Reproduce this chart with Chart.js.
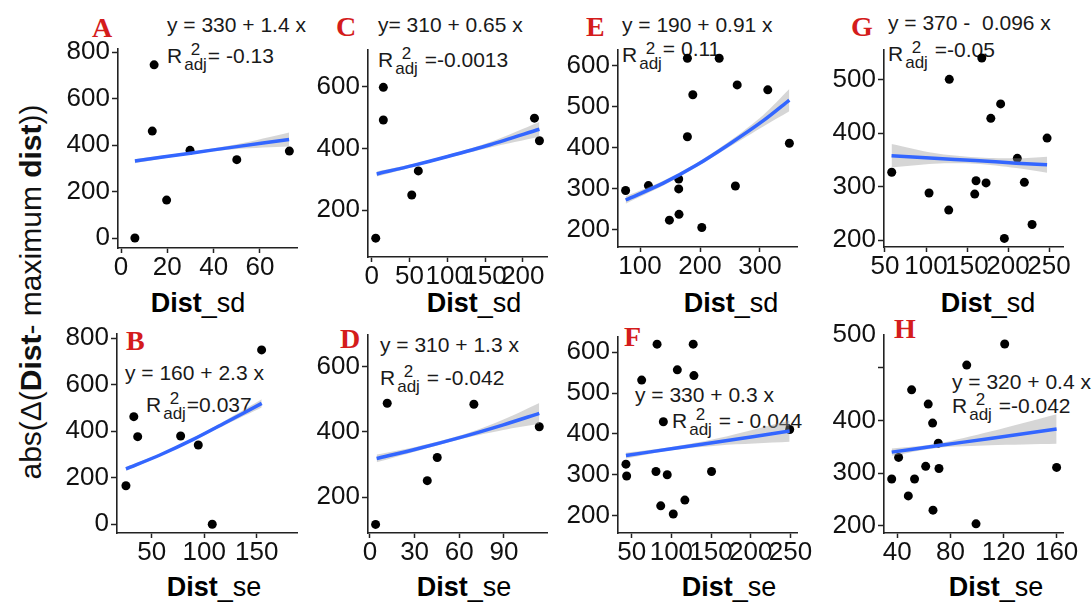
<!DOCTYPE html>
<html>
<head>
<meta charset="utf-8">
<script src="https://cdn.jsdelivr.net/npm/chart.js"></script>
<style>
body{margin:0;background:#fff;}
#wrap{position:relative;width:1092px;height:604px;overflow:hidden;font-family:"Liberation Sans",Arial,sans-serif;color:#1a1a1a;}
canvas{position:absolute;}
.lab{position:absolute;font-family:"Liberation Serif","Times New Roman",serif;font-weight:bold;font-size:28px;line-height:28px;color:#d41c1c;}
.eq{position:absolute;font-size:21px;line-height:21px;white-space:pre;}
.st{display:inline-flex;flex-direction:column;align-items:center;font-size:17px;line-height:15px;vertical-align:8px;margin:0 1px 0 2px;}
.ttl{position:absolute;font-size:27px;line-height:27px;white-space:pre;transform:translate(-50%,-50%);color:#000;}
.ytl{position:absolute;left:31px;top:292px;font-size:30px;line-height:30px;white-space:pre;transform:translate(-50%,-50%) rotate(-90deg);color:#111;}
</style>
</head>
<body>
<div id="wrap">
  <div class="ytl">abs(Δ(<b>Dist</b>- maximum <b>dist</b>))</div>

  <!-- panel letters -->
  <div class="lab" style="left:92px;top:14px">A</div>
  <div class="lab" style="left:336px;top:13px">C</div>
  <div class="lab" style="left:586px;top:13px">E</div>
  <div class="lab" style="left:851px;top:13px">G</div>
  <div class="lab" style="left:126px;top:327px">B</div>
  <div class="lab" style="left:340px;top:325px">D</div>
  <div class="lab" style="left:624px;top:323px">F</div>
  <div class="lab" style="left:894px;top:315px">H</div>

  <!-- fit equations -->
  <div class="eq" style="left:167px;top:14px">y = 330 + 1.4 x</div>
  <div class="eq" style="left:167px;top:42px">R<span class="st"><span>2</span><span>adj</span></span>= -0.13</div>
  <div class="eq" style="left:378px;top:14px">y= 310 + 0.65 x</div>
  <div class="eq" style="left:378px;top:46px">R<span class="st"><span>2</span><span>adj</span></span> =-0.0013</div>
  <div class="eq" style="left:622px;top:14px">y = 190 + 0.91 x</div>
  <div class="eq" style="left:622px;top:41px">R<span class="st"><span>2</span><span>adj</span></span><span style="position:relative;top:-6px">= 0.11</span></div>
  <div class="eq" style="left:888px;top:12px">y = 370 -  0.096 x</div>
  <div class="eq" style="left:888px;top:40px">R<span class="st"><span>2</span><span>adj</span></span><span style="position:relative;top:-4px"> =-0.05</span></div>
  <div class="eq" style="left:125px;top:362px">y = 160 + 2.3 x</div>
  <div class="eq" style="left:146px;top:391px">R<span class="st"><span>2</span><span>adj</span></span>=0.037</div>
  <div class="eq" style="left:380px;top:334px">y = 310 + 1.3 x</div>
  <div class="eq" style="left:380px;top:364px">R<span class="st"><span>2</span><span>adj</span></span> = -0.042</div>
  <div class="eq" style="left:635px;top:384px">y = 330 + 0.3 x</div>
  <div class="eq" style="left:672px;top:407px">R<span class="st"><span>2</span><span>adj</span></span> = - 0.044</div>
  <div class="eq" style="left:952px;top:371px">y = 320 + 0.4 x</div>
  <div class="eq" style="left:952px;top:392px">R<span class="st"><span>2</span><span>adj</span></span> =-0.042</div>

  <!-- axis titles -->
  <div class="ttl" style="left:198px;top:303px"><b>Dist</b>_sd</div>
  <div class="ttl" style="left:474px;top:303px"><b>Dist</b>_sd</div>
  <div class="ttl" style="left:731px;top:303px"><b>Dist</b>_sd</div>
  <div class="ttl" style="left:988px;top:303px"><b>Dist</b>_sd</div>
  <div class="ttl" style="left:214px;top:587px"><b>Dist</b>_se</div>
  <div class="ttl" style="left:464px;top:587px"><b>Dist</b>_se</div>
  <div class="ttl" style="left:729px;top:587px"><b>Dist</b>_se</div>
  <div class="ttl" style="left:996px;top:587px"><b>Dist</b>_se</div>
</div>
<script>
// A  (Dist_sd)
var aX = [6, 14.3, 13.5, 19.7, 29.8, 50, 72.7];
var aY = [0, 745, 460, 163, 377, 337, 374];
var aFitX = [6, 30, 50, 72.6];
var aFitY = [331, 365, 393, 424];
var aHi = [340, 370, 403, 454];
var aLo = [322, 360, 383, 394];
var aXTicks = [0, 20, 40, 60];
var aYTicks = [0, 200, 400, 600, 800];

// B  (Dist_se)
var bX = [25.5, 33, 36.7, 77.6, 94.4, 107.7, 154.7];
var bY = [166, 463, 377, 380, 341, 0, 750];
var bFitX = [25.5, 57.9, 89.6, 121.4, 154.8];
var bFitY = [238, 298, 365, 440, 520];
var bHi = [246, 303, 371, 450, 538];
var bLo = [230, 293, 359, 430, 502];
var bXTicks = [50, 100, 150];
var bYTicks = [0, 200, 400, 600, 800];

// C
var cX = [5.3, 15.4, 15.4, 61.7, 53, 215.4, 222];
var cY = [109, 598, 492, 327, 249, 498, 425];
var cFitX = [6.6, 55.1, 99.3, 156.7, 222];
var cFitY = [317, 345, 373, 412, 462];
var cHi = [325, 350, 378, 421, 486];
var cLo = [309, 340, 368, 403, 438];
var cXTicks = [0, 50, 100, 150, 200];
var cYTicks = [200, 400, 600];

// D
var dX = [3.8, 11.6, 38.5, 45.2, 69.8, 113.7];
var dY = [117, 488, 251, 322, 485, 416];
var dFitX = [4.5, 31.3, 62.7, 89.6, 113.7];
var dFitY = [319, 348, 386, 422, 457];
var dHi = [331, 355, 392, 438, 489];
var dLo = [307, 341, 380, 406, 425];
var dXTicks = [0, 30, 60, 90];
var dYTicks = [200, 400, 600];

// E
var eX = [76, 114, 149, 164.5, 164.5, 165, 179, 179, 188, 203, 232, 259, 262, 313, 349];
var eY = [296, 308, 224, 324, 300, 238, 618, 427, 529, 206, 618, 307, 553, 541, 411];
var eFitX = [76.1, 138.9, 194.4, 250, 305.5, 348.9];
var eFitY = [273, 314, 358, 410, 466, 516];
var eHi = [282, 320, 363, 417, 480, 543];
var eLo = [264, 308, 353, 403, 452, 489];
var eXTicks = [100, 200, 300];
var eYTicks = [200, 300, 400, 500, 600];

// F
var fX = [42.8, 43.7, 62.6, 82, 80.6, 86.6, 89.9, 94.8, 102.4, 107.5, 117, 127.5, 128.4, 150.6, 249];
var fY = [326, 297, 532, 620, 308, 224, 430, 300, 204, 557, 238, 620, 543, 308, 411];
var fFitX = [42.8, 100, 160, 248.9];
var fFitY = [347, 364, 381, 407];
var fHi = [354, 368, 390, 433];
var fLo = [340, 360, 372, 381];
var fXTicks = [50, 100, 150, 200, 250];
var fYTicks = [200, 300, 400, 500, 600];

// G
var gX = [58.2, 103.7, 127.7, 128.4, 159.4, 161, 173.2, 168, 179, 191, 195.5, 211.3, 219.9, 229.3, 247.6];
var gY = [327, 288, 256, 501, 286, 311, 307, 541, 428, 455, 203, 353, 308, 229, 391];
var gFitX = [58, 110, 160, 210, 247.6];
var gFitY = [358, 353, 349, 344, 341];
var gHi = [380, 363, 355, 353, 356];
var gLo = [336, 343, 343, 335, 326];
var gXTicks = [50, 100, 150, 200, 250];
var gYTicks = [200, 300, 400, 500];

// H
var hX = [35.8, 41, 48.3, 50.8, 53, 61.4, 63.3, 66.6, 66.9, 70.9, 71.4, 92.3, 99.3, 120.9, 160];
var hY = [289, 330, 257, 458, 289, 313, 431, 395, 230, 357, 309, 505, 204, 545, 311];
var hFitX = [35.8, 70, 110, 160];
var hFitY = [340, 352, 366, 384];
var hHi = [347, 356, 379, 412];
var hLo = [333, 348, 353, 356];
var hXTicks = [40, 80, 120, 160];
var hYTicks = [200, 300, 400, 500, 562];
var hYLabels = ['200', '300', '400', '', '500'];

var tickFont = {family: '"Liberation Sans", Arial, sans-serif', size: 26, lineHeight: 1};

function pts(a, b) {
    return a.map(function(v, i){ return {x: v, y: b[i]}; });
}

// box = [left, top, right, bottom] of the plot area on the page
function panel(p) {
    var cv = document.createElement('canvas');
    cv.width = p.box[2] - p.box[0] + 90;
    cv.height = p.box[3] - p.box[1] + 55;
    cv.style.left = (p.box[0] - 60) + 'px';
    cv.style.top = (p.box[1] - 15) + 'px';
    document.getElementById('wrap').appendChild(cv);

    new Chart(cv, {
        type: 'line',
        data: {
            datasets: [
            {
                data: pts(p.fitX, p.fitY),
                borderColor: '#3366ff',
                borderWidth: 3.5,
                pointRadius: 0,
                tension: 0.3,
                fill: false,
                order: 0
            },
            {
                data: pts(p.fitX, p.hi),
                borderColor: 'rgba(0,0,0,0)',
                pointRadius: 0,
                backgroundColor: 'rgba(153,153,153,0.4)',
                tension: 0.3,
                fill: '+1',
                order: 1
            },
            {
                data: pts(p.fitX, p.lo),
                borderColor: 'rgba(0,0,0,0)',
                pointRadius: 0,
                tension: 0.3,
                fill: false,
                order: 2
            },
            {
                data: pts(p.x, p.y),
                showLine: false,
                pointRadius: 4.5,
                pointBackgroundColor: '#000',
                pointBorderColor: '#000',
                pointBorderWidth: 0,
                order: 3
            }
            ]
        },
        options: {
            responsive: false,
            animation: false,
            layout: {padding: {left: 0, top: 15, right: 30, bottom: 0}},
            plugins: {legend: {display: false}, tooltip: {enabled: false}},
            scales: {
                x: {
                    type: 'linear',
                    min: p.xr[0],
                    max: p.xr[1],
                    afterBuildTicks: function(s){ s.ticks = p.xt.map(function(v){ return {value: v}; }); },
                    afterFit: function(s){ s.height = 40; },
                    grid: {drawOnChartArea: false, drawTicks: true, tickLength: 5, tickWidth: 1.5, tickColor: '#222'},
                    border: {display: true, color: '#222', width: 1.6},
                    ticks: {autoSkip: false, maxRotation: 0, minRotation: 0, padding: 2, color: '#111', font: tickFont}
                },
                y: {
                    type: 'linear',
                    min: p.yr[0],
                    max: p.yr[1],
                    afterBuildTicks: function(s){ s.ticks = p.yt.map(function(v){ return {value: v}; }); },
                    afterFit: function(s){ s.width = 60; },
                    grid: {
                        drawOnChartArea: false, drawTicks: true, tickLength: 6, tickWidth: 1.5,
                        tickColor: function(ctx){ return (ctx.tick && ctx.tick.value >= p.yr[1]) ? 'rgba(0,0,0,0)' : '#222'; }
                    },
                    border: {display: true, color: '#222', width: 1.6},
                    ticks: {
                        padding: 2, color: '#111', font: tickFont,
                        callback: function(v, i){ return p.yl ? p.yl[i] : String(v); }
                    }
                }
            }
        }
    });
}

panel({box: [118, 49, 297, 248], x: aX, y: aY, fitX: aFitX, fitY: aFitY, hi: aHi, lo: aLo, xt: aXTicks, yt: aYTicks, xr: [-1.3, 76], yr: [-43, 813]});
panel({box: [368, 50, 547, 257], x: cX, y: cY, fitX: cFitX, fitY: cFitY, hi: cHi, lo: cLo, xt: cXTicks, yt: cYTicks, xr: [-4.9, 232], yr: [48, 719]});
panel({box: [618, 50, 797, 247], x: eX, y: eY, fitX: eFitX, fitY: eFitY, hi: eHi, lo: eLo, xt: eXTicks, yt: eYTicks, xr: [63.3, 361.7], yr: [158.6, 638]});
panel({box: [884, 50, 1063, 247], x: gX, y: gY, fitX: gFitX, fitY: gFitY, hi: gHi, lo: gLo, xt: gXTicks, yt: gYTicks, xr: [48.8, 267], yr: [186.9, 556]});
panel({box: [117, 334, 297, 533], x: bX, y: bY, fitX: bFitX, fitY: bFitY, hi: bHi, lo: bLo, xt: bXTicks, yt: bYTicks, xr: [17, 188.4], yr: [-37.4, 818.5]});
panel({box: [368, 335, 547, 533], x: dX, y: dY, fitX: dFitX, fitY: dFitY, hi: dHi, lo: dLo, xt: dXTicks, yt: dYTicks, xr: [-1.3, 118.9], yr: [90.7, 697]});
panel({box: [618, 337, 797, 533], x: fX, y: fY, fitX: fFitX, fitY: fFitY, hi: fHi, lo: fLo, xt: fXTicks, yt: fYTicks, xr: [32.8, 258.2], yr: [157.4, 637.5]});
panel({box: [884, 335, 1063, 533], x: hX, y: hY, fitX: hFitX, fitY: hFitY, hi: hHi, lo: hLo, xt: hXTicks, yt: hYTicks, yl: hYLabels, xr: [30, 164.8], yr: [186.7, 562]});
</script>
</body>
</html>
